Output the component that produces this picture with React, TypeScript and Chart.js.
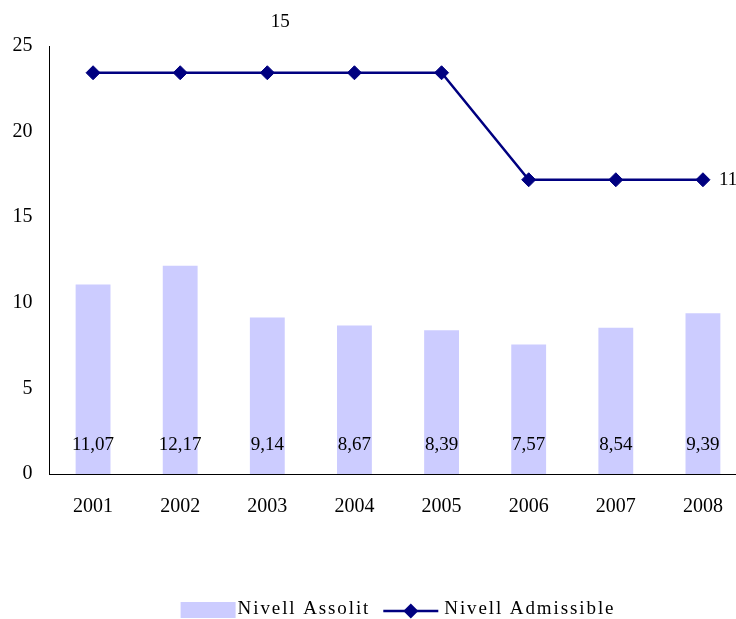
import React, { useEffect, useRef } from "react";
import { Chart, registerables } from "chart.js";

Chart.register(...registerables);

const years = ["2001", "2002", "2003", "2004", "2005", "2006", "2007", "2008"];
const nivellAssolit = [11.07, 12.17, 9.14, 8.67, 8.39, 7.57, 8.54, 9.39];
const nivellAdmissible = [15, 15, 15, 15, 15, 11, 11, 11];
const admissibleLabelIdx = [2, 7];
const seriesNames = ["Nivell Assolit", "Nivell Admissible"];

const FONT = "'Liberation Serif', 'Times New Roman', serif";
const BAR_COLOR = "#CCCCFF";
const LINE_COLOR = "#000080";

const fmt = (v: number) => v.toFixed(2).replace(".", ",");

const labelsPlugin = {
  id: "customLabels",
  afterDatasetsDraw(chart: any) {
    const ctx = chart.ctx;
    const area = chart.chartArea;
    ctx.save();
    ctx.fillStyle = "#000";
    ctx.font = `19px ${FONT}`;
    ctx.textAlign = "center";
    ctx.textBaseline = "middle";
    const barMeta = chart.getDatasetMeta(0);
    barMeta.data.forEach((el: any, i: number) => {
      ctx.fillText(fmt(nivellAssolit[i]), el.x, area.bottom - 29);
    });
    const lineMeta = chart.getDatasetMeta(1);
    admissibleLabelIdx.forEach((idx, k) => {
      const el = lineMeta.data[idx];
      if (!el) return;
      const txt = String(nivellAdmissible[idx]);
      if (k === 0) {
        ctx.textAlign = "center";
        ctx.fillText(txt, el.x + 13, el.y - 51);
      } else {
        ctx.textAlign = "left";
        ctx.fillText(txt, el.x + 16, el.y);
      }
    });
    ctx.restore();
  },
  afterDraw(chart: any) {
    const ctx = chart.ctx;
    const area = chart.chartArea;
    ctx.save();
    ctx.font = `19px ${FONT}`;
    (ctx as any).letterSpacing = "1.9px";
    ctx.textBaseline = "middle";
    ctx.textAlign = "left";
    const w1 = ctx.measureText(seriesNames[0]).width;
    const w2 = ctx.measureText(seriesNames[1]).width;
    const total = 55 + 2 + w1 + 13 + 55 + 6 + w2;
    let x = (area.left + area.right) / 2 - total / 2;
    const y = 609;
    ctx.fillStyle = BAR_COLOR;
    ctx.fillRect(x, y - 7, 55, 16);
    x += 57;
    ctx.fillStyle = "#000";
    ctx.fillText(seriesNames[0], x, y);
    x += w1 + 13;
    ctx.strokeStyle = LINE_COLOR;
    ctx.lineWidth = 2.5;
    ctx.beginPath();
    ctx.moveTo(x, y + 2);
    ctx.lineTo(x + 55, y + 2);
    ctx.stroke();
    ctx.fillStyle = LINE_COLOR;
    const cx = x + 27.5;
    const cy = y + 2;
    ctx.beginPath();
    ctx.moveTo(cx - 7.5, cy);
    ctx.lineTo(cx, cy - 7.5);
    ctx.lineTo(cx + 7.5, cy);
    ctx.lineTo(cx, cy + 7.5);
    ctx.closePath();
    ctx.fill();
    x += 61;
    ctx.fillStyle = "#000";
    ctx.fillText(seriesNames[1], x, y);
    ctx.restore();
  },
};

export default function App() {
  const ref = useRef<HTMLCanvasElement | null>(null);

  useEffect(() => {
    if (!ref.current) return;
    const chart = new Chart(ref.current, {
      type: "bar",
      data: {
        labels: years,
        datasets: [
          {
            type: "bar",
            label: seriesNames[0],
            data: nivellAssolit,
            backgroundColor: BAR_COLOR,
            borderWidth: 0,
            barPercentage: 0.5,
            categoryPercentage: 0.8,
            yAxisID: "y",
            order: 1,
          },
          {
            type: "line",
            label: seriesNames[1],
            data: nivellAdmissible,
            borderColor: LINE_COLOR,
            backgroundColor: LINE_COLOR,
            borderWidth: 2.5,
            pointStyle: "rectRot",
            pointRadius: 7,
            pointBorderWidth: 1,
            pointBackgroundColor: LINE_COLOR,
            pointBorderColor: LINE_COLOR,
            tension: 0,
            yAxisID: "y1",
            order: 0,
          } as any,
        ],
      },
      options: {
        responsive: false,
        animation: false,
        layout: { padding: { left: 0, top: 46, right: 13.5, bottom: 95 } },
        plugins: {
          legend: { display: false },
          tooltip: { enabled: false },
        },
        scales: {
          x: {
            grid: { display: false, drawTicks: false },
            border: { display: true, color: "#000", width: 1 },
            ticks: {
              color: "#000",
              font: { family: FONT, size: 20 },
              padding: 21,
            },
            afterFit: (s: any) => {
              s.height = 50;
            },
          },
          y: {
            min: 0,
            max: 25,
            grid: { display: false, drawTicks: false },
            border: { display: true, color: "#000", width: 1 },
            ticks: {
              stepSize: 5,
              color: "#000",
              font: { family: FONT, size: 20 },
              padding: 17,
            },
            afterFit: (s: any) => {
              s.width = 49.5;
            },
          },
          y1: {
            display: false,
            min: 0,
            max: 16,
            position: "right",
          },
        },
      },
      plugins: [labelsPlugin],
    });
    return () => chart.destroy();
  }, []);

  return (
    <div
      style={{
        position: "absolute",
        left: 0,
        top: 0,
        width: 736,
        height: 619,
        overflow: "hidden",
        background: "#fff",
      }}
    >
      <canvas ref={ref} width={760} height={619} style={{ display: "block" }} />
    </div>
  );
}
